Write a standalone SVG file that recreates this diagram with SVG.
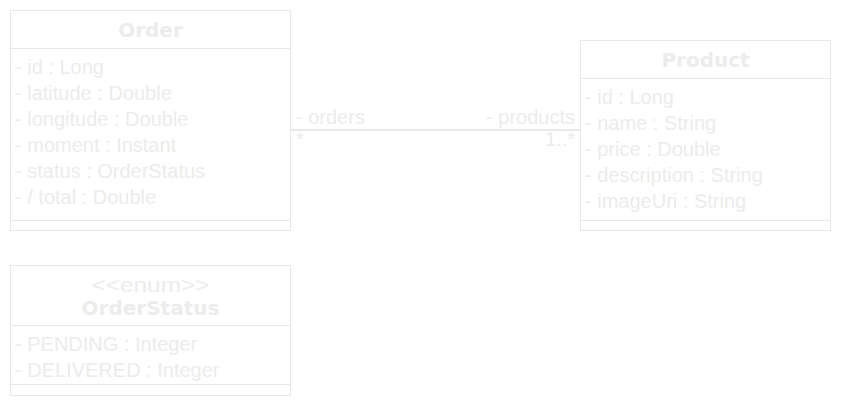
<svg xmlns="http://www.w3.org/2000/svg" width="842" height="406" viewBox="0 0 842 406">
<style>
.box{fill:#ffffff;stroke:#e8e8e8;stroke-width:1}
.sep{stroke:#e8e8e8;stroke-width:1}
.title{font-family:"DejaVu Sans",Verdana,sans-serif;font-weight:bold;font-size:20px;fill:#ececec;text-anchor:middle}
.st{font-family:"Liberation Sans",Arial,sans-serif;font-size:21px;fill:#ececec;text-anchor:middle}
.attr{font-family:"Liberation Sans",Arial,sans-serif;font-size:20px;fill:#ececec}
.lbl{font-family:"Liberation Sans",Arial,sans-serif;font-size:20px;fill:#ececec}
.conn{stroke:#e8e8e8;stroke-width:2;fill:none}
</style>
<rect width="842" height="406" fill="#ffffff"/>
<g id="connectors">
<line class="conn" x1="290" y1="130" x2="580" y2="130"/>
<text class="lbl" x="296" y="124">- orders</text>
<text class="lbl" x="575" y="124" text-anchor="end">- products</text>
<text class="lbl" x="296" y="146">*</text>
<text class="lbl" x="575" y="146" text-anchor="end">1..*</text>
</g>
<g id="Order">
<rect class="box" x="10.5" y="10.5" width="280" height="220"/>
<line class="sep" x1="10.5" y1="48.5" x2="290.5" y2="48.5"/>
<line class="sep" x1="10.5" y1="220.5" x2="290.5" y2="220.5"/>
<text class="title" x="150.5" y="37">Order</text>
<text class="attr" x="15" y="74">- id : Long</text>
<text class="attr" x="15" y="100">- latitude : Double</text>
<text class="attr" x="15" y="126">- longitude : Double</text>
<text class="attr" x="15" y="152">- moment : Instant</text>
<text class="attr" x="15" y="178">- status : OrderStatus</text>
<text class="attr" x="15" y="204">- / total : Double</text>
</g>
<g id="Product">
<rect class="box" x="580.5" y="40.5" width="250" height="190"/>
<line class="sep" x1="580.5" y1="78.5" x2="830.5" y2="78.5"/>
<line class="sep" x1="580.5" y1="220.5" x2="830.5" y2="220.5"/>
<text class="title" x="705.5" y="67">Product</text>
<text class="attr" x="585" y="104">- id : Long</text>
<text class="attr" x="585" y="130">- name : String</text>
<text class="attr" x="585" y="156">- price : Double</text>
<text class="attr" x="585" y="182">- description : String</text>
<text class="attr" x="585" y="208">- imageUri : String</text>
</g>
<g id="OrderStatus">
<rect class="box" x="10.5" y="265.5" width="280" height="130"/>
<line class="sep" x1="10.5" y1="325.5" x2="290.5" y2="325.5"/>
<line class="sep" x1="10.5" y1="384.5" x2="290.5" y2="384.5"/>
<text class="st" x="150.5" y="292" textLength="118" lengthAdjust="spacingAndGlyphs">&lt;&lt;enum&gt;&gt;</text>
<text class="title" x="150.5" y="315">OrderStatus</text>
<text class="attr" x="15" y="351">- PENDING : Integer</text>
<text class="attr" x="15" y="377">- DELIVERED : Integer</text>
</g>
</svg>
